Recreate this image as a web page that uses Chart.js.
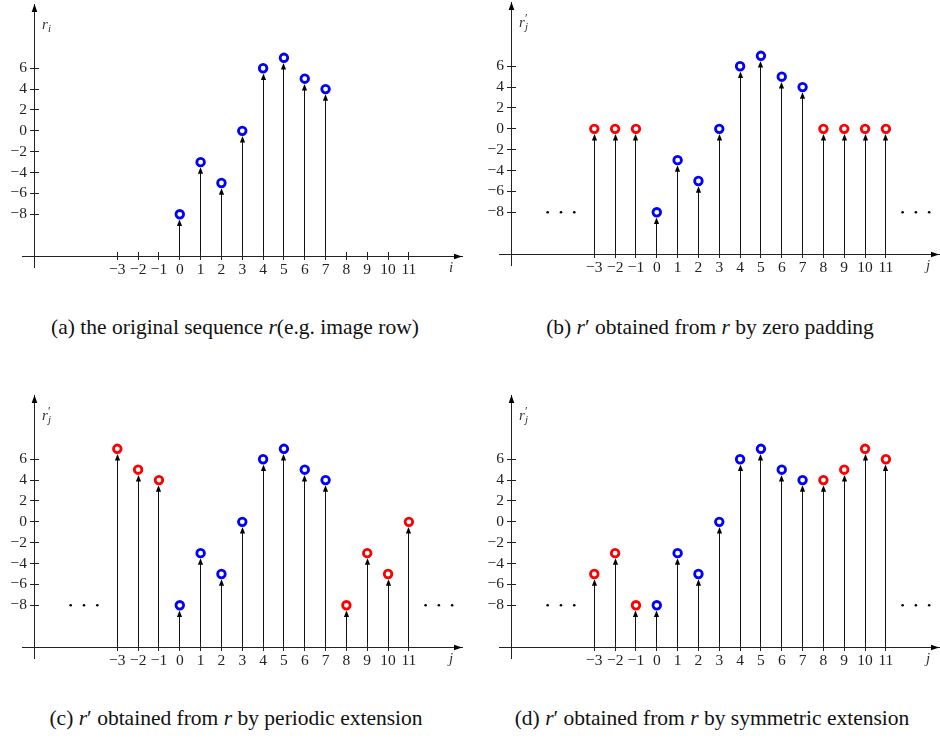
<!DOCTYPE html>
<html>
<head>
<meta charset="utf-8">
<script src="https://cdn.jsdelivr.net/npm/chart.js@4/dist/chart.umd.min.js"></script>
<style>
  body { margin: 0; background: #fff; width: 940px; height: 738px; position: relative; overflow: hidden; }
  .panel { position: absolute; width: 465px; height: 290px; }
  .cap { position: absolute; font-family: "Liberation Serif", serif; font-size: 21.5px; line-height: 24px;
         color: #111; white-space: nowrap; transform: translateX(-50%); }
</style>
</head>
<body>
<div class="panel" style="left:0;top:0"><canvas id="chartA"></canvas></div>
<div class="panel" style="left:477px;top:-2px"><canvas id="chartB"></canvas></div>
<div class="panel" style="left:0;top:391px"><canvas id="chartC"></canvas></div>
<div class="panel" style="left:477px;top:391px"><canvas id="chartD"></canvas></div>

<div class="cap" style="left:235px;top:315px">(a) the original sequence <i>r</i>(e.g. image row)</div>
<div class="cap" style="left:710px;top:315px">(b) <i>r</i>′ obtained from <i>r</i> by zero padding</div>
<div class="cap" style="left:236px;top:706px">(c) <i>r</i>′ obtained from <i>r</i> by periodic extension</div>
<div class="cap" style="left:712px;top:706px">(d) <i>r</i>′ obtained from <i>r</i> by symmetric extension</div>

<script>
// the sequence r and its extended copies
const origIdx = [0, 1, 2, 3, 4, 5, 6, 7];
const origVals = [-8, -3, -5, 0, 6, 7, 5, 4];
const extIdx = [-3, -2, -1, 8, 9, 10, 11];
const zeroPad = [0, 0, 0, 0, 0, 0, 0];
const periodicExt = [7, 5, 4, -8, -3, -5, 0];
const symmetricExt = [-5, -3, -8, 4, 5, 7, 6];

const xTicks = [-3, -2, -1, 0, 1, 2, 3, 4, 5, 6, 7, 8, 9, 10, 11];
const yTicks = [-8, -6, -4, -2, 0, 2, 4, 6];

const BLUE = '#0000ff';
const RED = '#ff0000';
const INK = '#222';
const SERIF = '"Liberation Serif", serif';

const fmt = v => String(v).replace('-', '\u2212');
const align = p => Math.round(p - 0.5) + 0.5;

// stems with arrow heads, from the i axis up to each circle
const stemPlugin = {
  id: 'stems',
  beforeDatasetsDraw(chart) {
    const { ctx, chartArea } = chart;
    ctx.save();
    ctx.strokeStyle = '#111';
    ctx.fillStyle = '#000';
    ctx.lineWidth = 1;
    chart.data.datasets.forEach((ds, di) => {
      chart.getDatasetMeta(di).data.forEach(pt => {
        const x = align(pt.x);
        const tip = pt.y + 5.2;
        ctx.beginPath();
        ctx.moveTo(x, chartArea.bottom);
        ctx.lineTo(x, tip + 5);
        ctx.stroke();
        ctx.beginPath();
        ctx.moveTo(x, tip);
        ctx.lineTo(x - 2.6, tip + 6.5);
        ctx.lineTo(x + 2.6, tip + 6.5);
        ctx.closePath();
        ctx.fill();
      });
    });
    ctx.restore();
  }
};

// axis arrows, tick halves inside the area, axis names and the dots
const axisPlugin = {
  id: 'axisDeco',
  afterDraw(chart, args, opts) {
    const { ctx, chartArea: a, scales: { x, y } } = chart;
    const ax = align(a.left), ay = align(a.bottom);
    ctx.save();
    ctx.strokeStyle = INK;
    ctx.fillStyle = '#000';
    ctx.lineWidth = 1;
    ctx.beginPath();
    ctx.moveTo(ax, a.bottom); ctx.lineTo(ax, a.bottom + 12);
    ctx.moveTo(a.left - 12, ay); ctx.lineTo(a.left, ay);
    xTicks.forEach(v => {
      const px = align(x.getPixelForValue(v));
      ctx.moveTo(px, a.bottom - 4); ctx.lineTo(px, a.bottom);
    });
    yTicks.forEach(v => {
      const py = align(y.getPixelForValue(v));
      ctx.moveTo(a.left, py); ctx.lineTo(a.left + 5, py);
    });
    ctx.stroke();

    ctx.beginPath();
    ctx.moveTo(ax, a.top); ctx.lineTo(ax - 2.8, a.top + 8); ctx.lineTo(ax + 2.8, a.top + 8); ctx.closePath();
    ctx.moveTo(a.right, ay); ctx.lineTo(a.right - 8, ay - 2.8); ctx.lineTo(a.right - 8, ay + 2.8); ctx.closePath();
    ctx.fill();

    ctx.fillStyle = '#333';
    ctx.textBaseline = 'alphabetic';
    ctx.textAlign = 'left';
    ctx.font = 'italic 15px ' + SERIF;
    ctx.fillText('r', a.left + 8, a.top + 25);
    if (opts.prime) {
      ctx.font = '12px ' + SERIF;
      ctx.fillText('\u2032', a.left + 14, a.top + 20);
    }
    ctx.font = 'italic 11px ' + SERIF;
    ctx.fillText(opts.sub, a.left + 14, a.top + 28);
    ctx.font = 'italic 15px ' + SERIF;
    ctx.fillText(opts.sub, a.right - 13, a.bottom + 16);

    if (opts.dots) {
      ctx.fillStyle = '#000';
      const py = y.getPixelForValue(-8);
      [-4.6, 12.44].forEach(c => {
        const cx = x.getPixelForValue(c);
        [-13.3, 0, 13.3].forEach(d => {
          ctx.beginPath();
          ctx.arc(cx + d, py, 1.3, 0, Math.PI * 2);
          ctx.fill();
        });
      });
    }
    ctx.restore();
  }
};

function points(xs, ys) {
  return xs.map((v, i) => ({ x: v, y: ys[i] }));
}

function stemSet(data, color) {
  return {
    data: data,
    pointRadius: 3.8,
    pointBorderWidth: 2.8,
    pointBackgroundColor: '#fff',
    pointBorderColor: color,
    showLine: false
  };
}

function makeChart(id, extVals, sub, dots) {
  const datasets = [stemSet(points(origIdx, origVals), BLUE)];
  if (extVals) datasets.push(stemSet(points(extIdx, extVals), RED));
  const tickFont = { family: SERIF, size: 15.5 };
  return new Chart(document.getElementById(id), {
    type: 'scatter',
    data: { datasets: datasets },
    plugins: [stemPlugin, axisPlugin],
    options: {
      responsive: true,
      maintainAspectRatio: false,
      animation: false,
      events: [],
      layout: { autoPadding: false, padding: { top: 4, right: 3, left: 0, bottom: 0 } },
      plugins: {
        legend: { display: false },
        tooltip: { enabled: false },
        axisDeco: { sub: sub, prime: sub === 'j', dots: dots }
      },
      scales: {
        x: {
          type: 'linear',
          min: -7,
          max: 13.55,
          afterBuildTicks: s => { s.ticks = xTicks.map(v => ({ value: v })); },
          afterFit: s => { s.height = 34; s.paddingLeft = 0; s.paddingRight = 0; },
          grid: { drawOnChartArea: false, tickLength: 4, color: INK },
          border: { color: INK },
          ticks: { padding: 1, color: '#222', font: tickFont, callback: fmt, autoSkip: false, maxRotation: 0 }
        },
        y: {
          type: 'linear',
          min: -12,
          max: 12.16,
          afterBuildTicks: s => { s.ticks = yTicks.map(v => ({ value: v })); },
          afterFit: s => { s.width = 34; s.paddingTop = 0; s.paddingBottom = 0; },
          grid: { drawOnChartArea: false, tickLength: 4, color: INK },
          border: { color: INK },
          ticks: { padding: 3, color: '#222', font: tickFont, callback: fmt, autoSkip: false }
        }
      }
    }
  });
}

makeChart('chartA', null, 'i', false);
makeChart('chartB', zeroPad, 'j', true);
makeChart('chartC', periodicExt, 'j', true);
makeChart('chartD', symmetricExt, 'j', true);
</script>
</body>
</html>
